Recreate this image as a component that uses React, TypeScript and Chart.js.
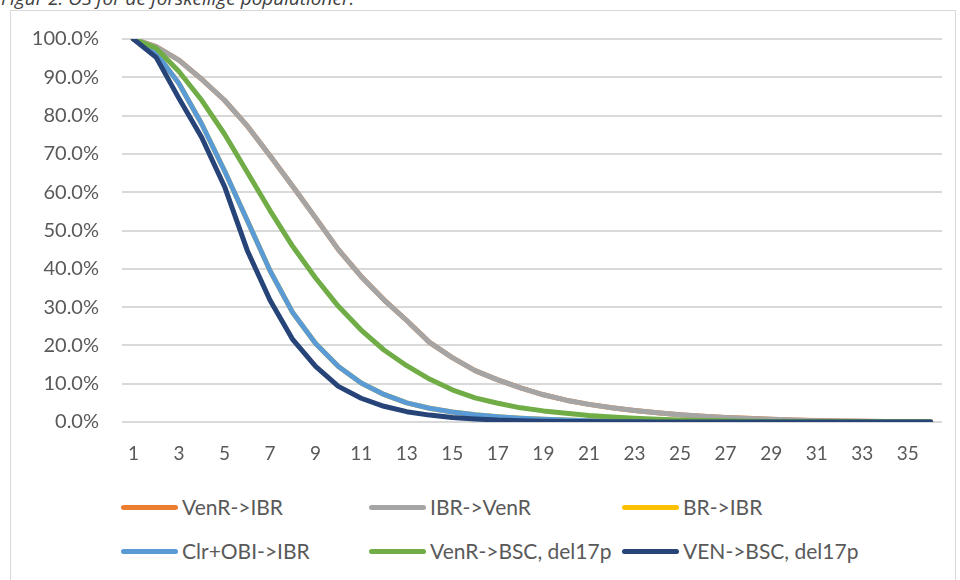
import React, { useEffect, useRef } from "react";
import { Chart, registerables } from "chart.js";

Chart.register(...registerables);

// Time points on the x axis
const periods = [
  "1", "2", "3", "4", "5", "6", "7", "8", "9", "10", "11", "12",
  "13", "14", "15", "16", "17", "18", "19", "20", "21", "22", "23", "24",
  "25", "26", "27", "28", "29", "30", "31", "32", "33", "34", "35", "36",
];

// Overall survival (%) per population
const venrIbr = [
  100, 98, 94.5, 89.5, 84, 77.3, 69.5, 61.5, 53.3, 45, 38, 31.9,
  26.5, 20.8, 16.8, 13.4, 11, 8.9, 7.1, 5.7, 4.6, 3.7, 3.0, 2.4,
  1.9, 1.5, 1.2, 0.95, 0.75, 0.55, 0.4, 0.28, 0.2, 0.15, 0.1, 0.1,
];
const ibrVenr = [
  100, 98, 94.5, 89.5, 84, 77.3, 69.5, 61.5, 53.3, 45, 38, 31.9,
  26.5, 20.8, 16.8, 13.4, 11, 8.9, 7.1, 5.7, 4.6, 3.7, 3.0, 2.4,
  1.9, 1.5, 1.2, 0.9, 0.7, 0.5, 0.35, 0.25, 0.2, 0.15, 0.1, 0.1,
];
const brIbr = [
  100, 96.3, 88.4, 77.8, 65.6, 52.6, 39.5, 28.5, 20.5, 14.5, 10.2, 7.2,
  5.0, 3.6, 2.6, 1.9, 1.4, 1.0, 0.7, 0.5, 0.35, 0.25, 0.18, 0.12,
  0.08, 0.05, 0.04, 0.03, 0.02, 0.01, 0.01, 0, 0, 0, 0, 0,
];
const clrObiIbr = [
  100, 96.3, 88.4, 77.8, 65.6, 52.6, 39.5, 28.5, 20.5, 14.5, 10.2, 7.2,
  5.0, 3.6, 2.6, 1.9, 1.4, 1.0, 0.7, 0.5, 0.35, 0.25, 0.18, 0.12,
  0.08, 0.05, 0.04, 0.03, 0.02, 0.01, 0.01, 0, 0, 0, 0, 0,
];
const venrBscDel17p = [
  100, 97.6, 91.5, 84, 75.2, 65.2, 55.2, 45.8, 37.6, 30.2, 24, 18.8,
  14.7, 11.2, 8.4, 6.3, 4.9, 3.7, 2.9, 2.3, 1.7, 1.3, 1.0, 0.75,
  0.55, 0.4, 0.3, 0.22, 0.16, 0.12, 0.08, 0.06, 0.04, 0.03, 0.02, 0.02,
];
const venBscDel17p = [
  100, 95.2, 84.5, 74.3, 61.5, 44.8, 31.8, 21.5, 14.5, 9.3, 6.2, 4.1,
  2.7, 1.8, 1.2, 0.8, 0.5, 0.35, 0.22, 0.15, 0.1, 0.06, 0.04, 0.03,
  0.02, 0.01, 0.01, 0, 0, 0, 0, 0, 0, 0, 0, 0,
];

const seriesNames = [
  "VenR->IBR",
  "IBR->VenR",
  "BR->IBR",
  "Clr+OBI->IBR",
  "VenR->BSC, del17p",
  "VEN->BSC, del17p",
];
const seriesColors = ["#ED7D31", "#A5A5A5", "#FFC000", "#5B9BD5", "#70AD47", "#264478"];
const seriesValues = [venrIbr, ibrVenr, brIbr, clrObiIbr, venrBscDel17p, venBscDel17p];

const yMin = 0;
const yMax = 100;
const yStep = 10;

const TEXT = "#595959";
const FONT = "Lato, 'Open Sans', sans-serif";

// Legend grid: three columns, two rows
const legendCols = [121, 369, 622];
const legendRows = [507, 551];

export default function App() {
  const canvasRef = useRef<HTMLCanvasElement>(null);

  useEffect(() => {
    const canvas = canvasRef.current;
    if (!canvas) return;
    const n = seriesNames.length;
    const chart = new Chart(canvas, {
      type: "line",
      data: {
        labels: periods,
        datasets: seriesNames.map((name, i) => ({
          label: name,
          data: seriesValues[i],
          borderColor: seriesColors[i],
          backgroundColor: seriesColors[i],
          borderWidth: 5,
          pointRadius: 0,
          pointHoverRadius: 0,
          tension: 0,
          fill: false,
          borderCapStyle: "round" as const,
          borderJoinStyle: "round" as const,
          // later series are painted over earlier ones
          order: n - i,
        })),
      },
      options: {
        responsive: false,
        animation: false,
        events: [],
        layout: { padding: { left: 22, right: 18, top: 39, bottom: 18 } },
        plugins: {
          legend: { display: false },
          tooltip: { enabled: false },
        },
        scales: {
          x: {
            offset: true,
            grid: { display: false, drawTicks: false },
            border: { display: false },
            ticks: {
              autoSkip: false,
              maxRotation: 0,
              minRotation: 0,
              padding: 20,
              color: TEXT,
              font: { family: FONT, size: 19 },
              callback: function (this: any, value: any, index: number) {
                return index % 2 === 0 ? this.getLabelForValue(value) : "";
              },
            },
            afterFit: (scale: any) => {
              scale.height = 40;
            },
          },
          y: {
            min: yMin,
            max: yMax,
            grid: { color: "#d9d9d9", lineWidth: 2, drawTicks: false },
            border: { display: false },
            ticks: {
              stepSize: yStep,
              padding: 23,
              color: TEXT,
              font: { family: FONT, size: 20 },
              callback: (value: any) => Number(value).toFixed(1) + "%",
            },
            afterFit: (scale: any) => {
              scale.width = 100;
            },
          },
        },
      },
    });
    return () => chart.destroy();
  }, []);

  return (
    <div
      style={{
        position: "fixed",
        left: 0,
        top: 0,
        width: 960,
        height: 580,
        overflow: "hidden",
        background: "#ffffff",
        fontFamily: FONT,
      }}
    >
      <div
        style={{
          position: "absolute",
          left: 1,
          top: -14,
          fontFamily: "'Open Sans', sans-serif",
          fontStyle: "italic",
          fontSize: 19,
          lineHeight: "24px",
          color: "#404040",
          whiteSpace: "nowrap",
        }}
      >
        Figur 2: OS for de forskellige populationer.
      </div>
      <div
        style={{
          position: "absolute",
          left: 10,
          top: 10,
          width: 946,
          height: 620,
          border: "1px solid #d9d9d9",
          boxSizing: "border-box",
        }}
      />
      <canvas
        ref={canvasRef}
        width={960}
        height={480}
        style={{ position: "absolute", left: 0, top: 0, width: 960, height: 480 }}
      />
      {seriesNames.map((name, i) => (
        <div
          key={name}
          style={{
            position: "absolute",
            left: legendCols[i % 3],
            top: legendRows[Math.floor(i / 3)] - 14,
            height: 28,
            display: "flex",
            alignItems: "center",
            whiteSpace: "nowrap",
          }}
        >
          <span
            style={{
              display: "inline-block",
              width: 57,
              height: 5,
              borderRadius: 3,
              background: seriesColors[i],
              marginRight: 4,
            }}
          />
          <span style={{ fontSize: 21, color: TEXT, lineHeight: "28px" }}>{name}</span>
        </div>
      ))}
    </div>
  );
}
